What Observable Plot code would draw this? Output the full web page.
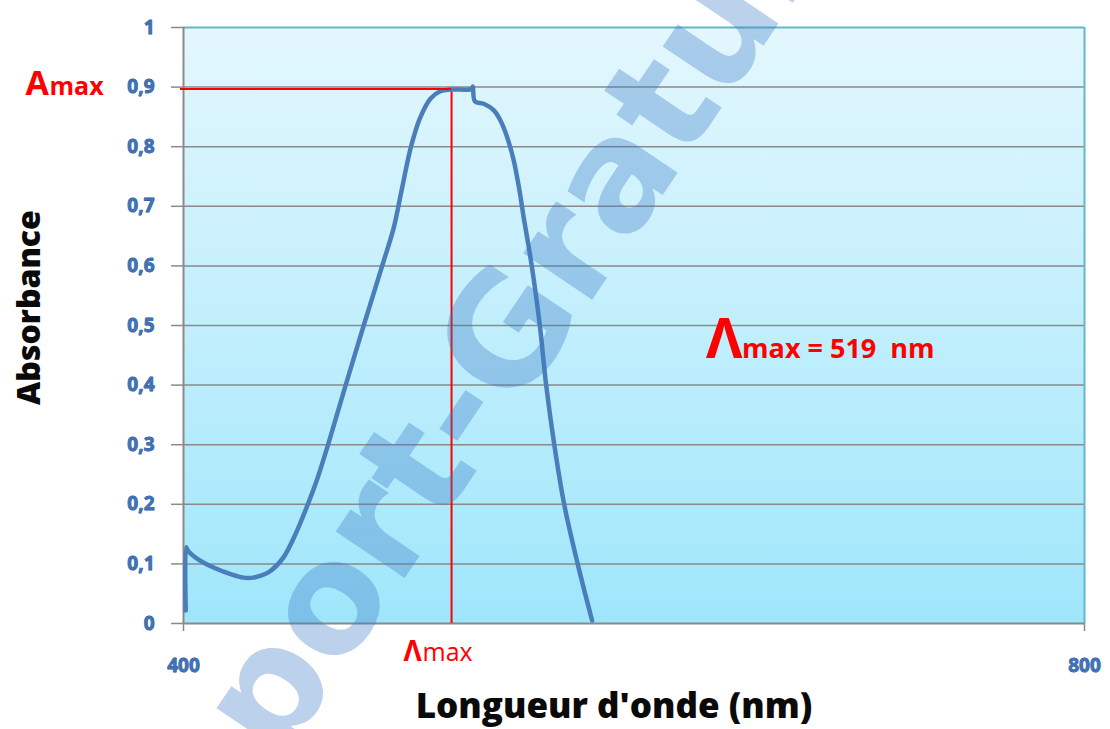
<!DOCTYPE html>
<html><head><meta charset="utf-8">
<script src="https://cdn.jsdelivr.net/npm/d3@7"></script>
<script src="https://cdn.jsdelivr.net/npm/@observablehq/plot@0.6"></script>
<style>
html,body{margin:0;padding:0;background:#fff;}
#chart{position:relative;width:1110px;height:729px;overflow:hidden;}
</style></head><body><div id="chart"></div>
<script>
// ---- data ----
const wavelengths = [401.0, 401.2, 402.0, 406.0, 413.3, 420.9, 426.6, 431.0, 435.0, 438.6, 444.4, 449.5, 455.2,
  459.6, 464.1, 472.0, 480.0, 488.2, 493.4, 497.0, 501.0, 505.0, 509.7, 514.0, 518.5, 528.2,
  528.5, 529.4, 533.3, 537.8, 540.7, 543.7, 546.6, 548.9, 551.3, 553.3, 555.0, 558.2, 561.0, 564.6,
  569.0, 575.0, 581.4];
const absorbances = [0.022, 0.128, 0.122, 0.109, 0.094, 0.083, 0.077, 0.077, 0.081, 0.088, 0.111, 0.148, 0.200,
  0.245, 0.299, 0.400, 0.500, 0.600, 0.665, 0.730, 0.800, 0.848, 0.881, 0.893, 0.896, 0.897,
  0.901, 0.876, 0.872, 0.861, 0.844, 0.816, 0.777, 0.732, 0.675, 0.631, 0.590, 0.500, 0.400, 0.300,
  0.200, 0.100, 0.005];
const yTicks = [0, 0.1, 0.2, 0.3, 0.4, 0.5, 0.6, 0.7, 0.8, 0.9, 1];
const yTickLabels = ["0", "0,1", "0,2", "0,3", "0,4", "0,5", "0,6", "0,7", "0,8", "0,9", "1"];
const xTicks = [400, 800];
const xTickLabels = ["400", "800"];
const lambdaMax = 519;
const aMax = 0.897;
const annotationPos = [632, 0.445];
const annotationText = "max = 519 \u00a0nm";
const xTitle = "Longueur d'onde (nm)";
const yTitle = "Absorbance";
const watermarkParts = ["Rapport", "-Gratuit.com"];

// ---- build ----
const spectrum = wavelengths.map((x, i) => ({x, y: absorbances[i]}));
const font = "'Open Sans', sans-serif";
const red = "#ff0000";
const grid = "#8a8a8a";
const border = "#62b6ce";
const tickFill = "#3f72b6";
const tickStroke = "#23508f";

const plot = Plot.plot({
  width: 1110, height: 729,
  marginLeft: 183, marginRight: 26, marginTop: 27, marginBottom: 106,
  style: {background: "transparent", fontFamily: font, overflow: "visible"},
  x: {domain: [400, 800], axis: null},
  y: {domain: [0, 1], axis: null},
  marks: [
    Plot.frame({fill: "url(#plotBg)", stroke: "none"}),
    Plot.ruleY(yTicks.filter(t => t > 0 && t < 1), {stroke: grid, strokeWidth: 1.5}),
    Plot.ruleY([1], {stroke: border, strokeWidth: 2}),
    Plot.ruleX([800], {stroke: border, strokeWidth: 2}),
    Plot.ruleY([0], {stroke: grid, strokeWidth: 2}),
    Plot.ruleX([400], {stroke: grid, strokeWidth: 2}),
    Plot.axisY({ticks: yTicks, tickFormat: d => yTickLabels[yTicks.indexOf(d)], label: null,
      tickSize: 12, tickPadding: 17, stroke: grid, strokeWidth: 1.5,
      fill: tickFill, textStroke: tickStroke, textStrokeWidth: 0.8,
      fontSize: 19, fontWeight: "bold", fontFamily: font}),
    Plot.axisX({ticks: xTicks, tickFormat: d => xTickLabels[xTicks.indexOf(d)], label: null,
      tickSize: 8, tickPadding: 27, stroke: grid, strokeWidth: 1.5,
      fill: tickFill, textStroke: tickStroke, textStrokeWidth: 0.8,
      fontSize: 19, fontWeight: "bold", fontFamily: font}),
    Plot.line(spectrum, {x: "x", y: "y", curve: "catmull-rom", stroke: "#4a7ebb", strokeWidth: 4.5,
      strokeLinejoin: "round", strokeLinecap: "round"}),
    Plot.ruleY([aMax], {x1: 400, x2: lambdaMax, stroke: red, strokeWidth: 2, insetLeft: -3}),
    Plot.ruleX([lambdaMax], {y1: 0, y2: aMax, stroke: red, strokeWidth: 2, insetBottom: -3}),
    // Amax label
    Plot.text([aMax], {y: d => d, frameAnchor: "left", text: () => "A", textAnchor: "start",
      lineAnchor: "bottom", dx: -158, dy: 6.6, fontSize: 34, fontWeight: "bold", fill: red}),
    Plot.text([aMax], {y: d => d, frameAnchor: "left", text: () => "max", textAnchor: "start",
      lineAnchor: "bottom", dx: -134, dy: 6.6, fontSize: 25, fontWeight: "bold", fill: red}),
    // Λmax label under the axis
    Plot.text([lambdaMax], {x: d => d, y: () => 0, text: () => "Λ", textAnchor: "start",
      lineAnchor: "bottom", dx: -48, dy: 37, fontSize: 28, fontWeight: "bold", fill: red}),
    Plot.text([lambdaMax], {x: d => d, y: () => 0, text: () => "max", textAnchor: "start",
      lineAnchor: "bottom", dx: -29, dy: 37, fontSize: 25, fontWeight: "normal", fill: red}),
    // Λmax = 519 nm annotation
    Plot.text([annotationPos], {x: d => d[0], y: d => d[1], text: () => "Λ", textAnchor: "start",
      lineAnchor: "bottom", fontSize: 56, fontWeight: "bold", fill: red}),
    Plot.text([annotationPos], {x: d => d[0], y: d => d[1], text: () => annotationText, textAnchor: "start",
      lineAnchor: "bottom", dx: 36, fontSize: 27, fontWeight: "bold", fill: red}),
    // axis titles
    Plot.text([xTitle], {frameAnchor: "bottom", text: d => d, textAnchor: "middle",
      lineAnchor: "bottom", dx: -20, dy: 94, fontSize: 35, fontWeight: 800, fill: "#0a0a0a"}),
    Plot.text([yTitle], {frameAnchor: "left", text: d => d, textAnchor: "middle",
      lineAnchor: "middle", rotate: -90, dx: -154, dy: -18, fontSize: 32, fontWeight: 800, fill: "#0a0a0a"})
  ]
});

const svg = d3.select(plot);
const defs = svg.insert("defs", ":first-child");
const g = defs.append("linearGradient").attr("id", "plotBg")
  .attr("x1", 0).attr("y1", 0).attr("x2", 0).attr("y2", 1);
g.append("stop").attr("offset", "0%").attr("stop-color", "#e3f7fd");
g.append("stop").attr("offset", "100%").attr("stop-color", "#9fe6fb");

// watermark
const wm = svg.append("g").attr("transform", "translate(480,466) rotate(-56)")
  .attr("font-family", "'DejaVu Sans', sans-serif").attr("font-weight", "bold")
  .attr("font-size", 152).attr("fill", "#3a78c4").attr("fill-opacity", 0.34)
  .attr("pointer-events", "none");
wm.append("text").attr("text-anchor", "end").text(watermarkParts[0]);
wm.append("text").attr("text-anchor", "start").text(watermarkParts[1]);

document.getElementById("chart").appendChild(plot);
</script></body></html>
